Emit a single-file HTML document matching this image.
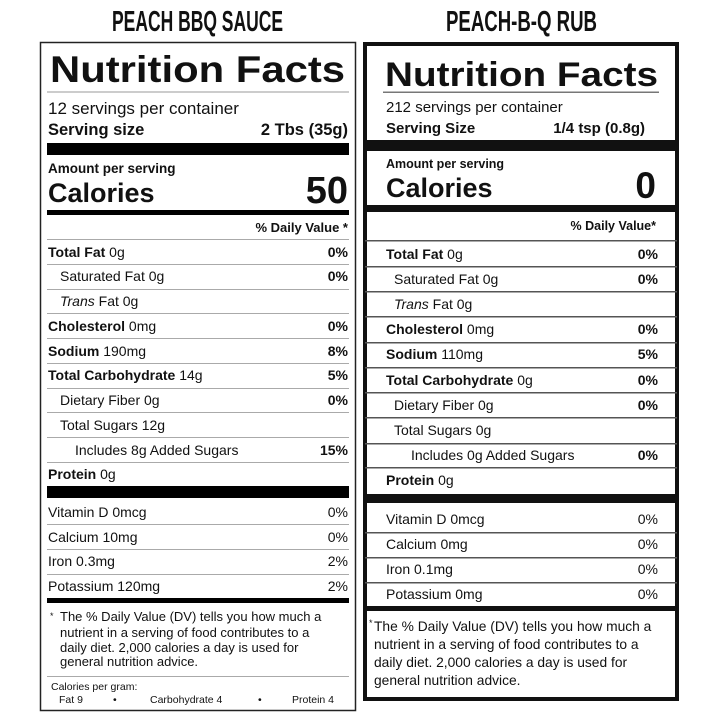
<!DOCTYPE html>
<html><head><meta charset="utf-8"><style>
html,body{margin:0;padding:0;background:#fff;}
svg{display:block;font-family:"Liberation Sans",Arial,sans-serif;}
text{fill:#111;}
.b{font-weight:bold;}
</style></head><body>
<svg width="720" height="720" viewBox="0 0 720 720" xmlns="http://www.w3.org/2000/svg">
<text x="112" y="31" class="b" font-size="29" textLength="171" lengthAdjust="spacingAndGlyphs">PEACH BBQ SAUCE</text>
<text x="446" y="31" class="b" font-size="29" textLength="151" lengthAdjust="spacingAndGlyphs">PEACH-B-Q RUB</text>

<rect x="40.5" y="42.5" width="315" height="668" fill="none" stroke="#222" stroke-width="1.5"/>
<text x="50" y="82" class="b" font-size="37" textLength="295" lengthAdjust="spacingAndGlyphs">Nutrition Facts</text>
<rect x="47" y="91.5" width="302" height="1" fill="#999"/>
<text x="48" y="114" font-size="17">12 servings per container</text>
<text x="48" y="135" class="b" font-size="16.5">Serving size</text>
<text x="348" y="135" class="b" font-size="16.5" text-anchor="end">2 Tbs (35g)</text>
<rect x="47" y="143" width="302" height="12" fill="#000"/>
<text x="48" y="173" class="b" font-size="13.5">Amount per serving</text>
<text x="48" y="202" class="b" font-size="27">Calories</text>
<text x="348" y="203" class="b" font-size="38" text-anchor="end">50</text>
<rect x="47" y="210" width="302" height="5" fill="#000"/>
<text x="348" y="232" class="b" font-size="13" text-anchor="end">% Daily Value *</text>
<g fill="#aaa">
<rect x="47" y="239" width="302" height="1"/>
<rect x="47" y="264" width="302" height="1"/>
<rect x="47" y="289" width="302" height="1"/>
<rect x="47" y="313" width="302" height="1"/>
<rect x="47" y="338" width="302" height="1"/>
<rect x="47" y="363" width="302" height="1"/>
<rect x="47" y="388" width="302" height="1"/>
<rect x="47" y="412" width="302" height="1"/>
<rect x="47" y="437" width="302" height="1"/>
<rect x="47" y="462" width="302" height="1"/>
<rect x="47" y="524" width="302" height="1"/>
<rect x="47" y="549" width="302" height="1"/>
<rect x="47" y="574" width="302" height="1"/>
<rect x="47" y="676" width="302" height="1"/>
</g>
<g font-size="14">
<text x="48" y="257"><tspan class="b">Total Fat</tspan> 0g</text><text x="348" y="257" class="b" text-anchor="end">0%</text>
<text x="60" y="281">Saturated Fat 0g</text><text x="348" y="281" class="b" text-anchor="end">0%</text>
<text x="60" y="306"><tspan font-style="italic">Trans</tspan> Fat 0g</text>
<text x="48" y="331"><tspan class="b">Cholesterol</tspan> 0mg</text><text x="348" y="331" class="b" text-anchor="end">0%</text>
<text x="48" y="356"><tspan class="b">Sodium</tspan> 190mg</text><text x="348" y="356" class="b" text-anchor="end">8%</text>
<text x="48" y="380"><tspan class="b">Total Carbohydrate</tspan> 14g</text><text x="348" y="380" class="b" text-anchor="end">5%</text>
<text x="60" y="405">Dietary Fiber 0g</text><text x="348" y="405" class="b" text-anchor="end">0%</text>
<text x="60" y="430">Total Sugars 12g</text>
<text x="75" y="455">Includes 8g Added Sugars</text><text x="348" y="455" class="b" text-anchor="end">15%</text>
<text x="48" y="479"><tspan class="b">Protein</tspan> 0g</text>
</g>
<rect x="47" y="486" width="302" height="12" fill="#000"/>
<g font-size="14">
<text x="48" y="517">Vitamin D 0mcg</text><text x="348" y="517" text-anchor="end">0%</text>
<text x="48" y="542">Calcium 10mg</text><text x="348" y="542" text-anchor="end">0%</text>
<text x="48" y="566">Iron 0.3mg</text><text x="348" y="566" text-anchor="end">2%</text>
<text x="48" y="591">Potassium 120mg</text><text x="348" y="591" text-anchor="end">2%</text>
</g>
<rect x="47" y="598" width="302" height="5" fill="#000"/>
<g font-size="13">
<text x="50" y="619" font-size="9">*</text>
<text x="60" y="621">The % Daily Value (DV) tells you how much a</text>
<text x="60" y="637">nutrient in a serving of food contributes to a</text>
<text x="60" y="652">daily diet. 2,000 calories a day is used for</text>
<text x="60" y="666">general nutrition advice.</text>
</g>
<g font-size="10.5">
<text x="51" y="690">Calories per gram:</text>
<text x="59" y="703">Fat 9</text>
<text x="113" y="703">•</text>
<text x="150" y="703">Carbohydrate 4</text>
<text x="258" y="703">•</text>
<text x="292" y="703">Protein 4</text>
</g>

<rect x="365" y="44" width="312" height="655" fill="none" stroke="#111" stroke-width="4"/>
<text x="385" y="86" class="b" font-size="34" textLength="273" lengthAdjust="spacingAndGlyphs">Nutrition Facts</text>
<rect x="383" y="91.5" width="276" height="1.5" fill="#777"/>
<text x="386" y="112" font-size="15">212 servings per container</text>
<text x="386" y="133" class="b" font-size="15">Serving Size</text>
<text x="645" y="133" class="b" font-size="15" text-anchor="end">1/4 tsp (0.8g)</text>
<rect x="365" y="140" width="312" height="11" fill="#111"/>
<text x="386" y="168" class="b" font-size="12.5">Amount per serving</text>
<text x="386" y="197" class="b" font-size="27">Calories</text>
<text x="656" y="198" class="b" font-size="37" text-anchor="end">0</text>
<rect x="365" y="205" width="312" height="7" fill="#111"/>
<text x="656" y="230" class="b" font-size="12.5" text-anchor="end">% Daily Value*</text>
<g fill="#555">
<rect x="365" y="240" width="312" height="1.5"/>
<rect x="365" y="266" width="312" height="1.5"/>
<rect x="365" y="291" width="312" height="1.5"/>
<rect x="365" y="316" width="312" height="1.5"/>
<rect x="365" y="342" width="312" height="1.5"/>
<rect x="365" y="367" width="312" height="1.5"/>
<rect x="365" y="392" width="312" height="1.5"/>
<rect x="365" y="417" width="312" height="1.5"/>
<rect x="365" y="443" width="312" height="1.5"/>
<rect x="365" y="467" width="312" height="1.5"/>
<rect x="365" y="532" width="312" height="1.5"/>
<rect x="365" y="557" width="312" height="1.5"/>
<rect x="365" y="582" width="312" height="1.5"/>
</g>
<g font-size="14">
<text x="386" y="259"><tspan class="b">Total Fat</tspan> 0g</text><text x="658" y="259" class="b" text-anchor="end">0%</text>
<text x="394" y="284">Saturated Fat 0g</text><text x="658" y="284" class="b" text-anchor="end">0%</text>
<text x="394" y="309"><tspan font-style="italic">Trans</tspan> Fat 0g</text>
<text x="386" y="334"><tspan class="b">Cholesterol</tspan> 0mg</text><text x="658" y="334" class="b" text-anchor="end">0%</text>
<text x="386" y="359"><tspan class="b">Sodium</tspan> 110mg</text><text x="658" y="359" class="b" text-anchor="end">5%</text>
<text x="386" y="385"><tspan class="b">Total Carbohydrate</tspan> 0g</text><text x="658" y="385" class="b" text-anchor="end">0%</text>
<text x="394" y="410">Dietary Fiber 0g</text><text x="658" y="410" class="b" text-anchor="end">0%</text>
<text x="394" y="435">Total Sugars 0g</text>
<text x="411" y="460">Includes 0g Added Sugars</text><text x="658" y="460" class="b" text-anchor="end">0%</text>
<text x="386" y="485"><tspan class="b">Protein</tspan> 0g</text>
</g>
<rect x="365" y="494" width="312" height="9" fill="#111"/>
<g font-size="14">
<text x="386" y="524">Vitamin D 0mcg</text><text x="658" y="524" text-anchor="end">0%</text>
<text x="386" y="549">Calcium 0mg</text><text x="658" y="549" text-anchor="end">0%</text>
<text x="386" y="574">Iron 0.1mg</text><text x="658" y="574" text-anchor="end">0%</text>
<text x="386" y="599">Potassium 0mg</text><text x="658" y="599" text-anchor="end">0%</text>
</g>
<rect x="365" y="606" width="312" height="5" fill="#111"/>
<g font-size="13.8">
<text x="369" y="626" font-size="9">*</text>
<text x="374" y="631">The % Daily Value (DV) tells you how much a</text>
<text x="374" y="649">nutrient in a serving of food contributes to a</text>
<text x="374" y="667">daily diet. 2,000 calories a day is used for</text>
<text x="374" y="685">general nutrition advice.</text>
</g>
</svg>
</body></html>
